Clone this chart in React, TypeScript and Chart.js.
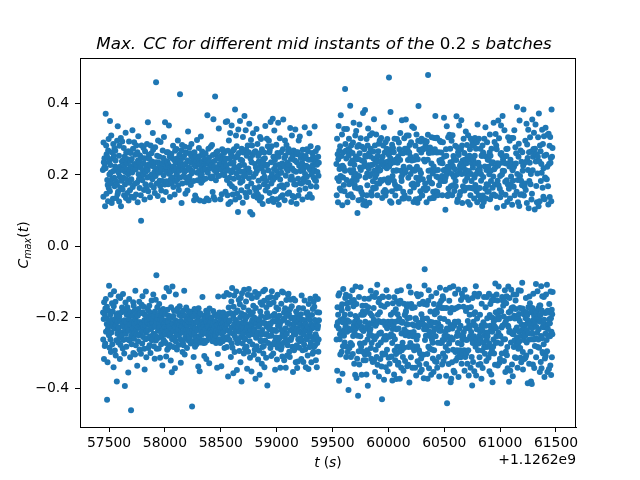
import { useEffect, useRef } from "react";
import { Chart, registerables } from "chart.js";

Chart.register(...registerables);

// Time offset shown beside the x axis (seconds)
const X_OFFSET_LABEL = "+1.1262e9";

// Two recording sections: first and last batch mid instant (s, relative to offset)
const SECTION1_SPAN = [57445, 59380];
const SECTION2_SPAN = [59535, 61470];

// Max. cross-correlation per batch, in thousandths, ordered by mid instant
const SECTION1_CC = [
  214, -187, -263, 139, 291, -205, 236, -318, -158, 221, 247, -192, -281, 233, 112, -274, -176, 219, 372, -149,
  -241, 283, -203, 147, 258, -219, -171, -432, 186, 249, -327, 172, -234, 126, 269, -224, -182, 301, 163, -251,
  -112, 238, 201, -286, -213, 154, 352, -194, 228, -263, -137, 207, -298, 177, 311, -243, -208, 121, 264, -161,
  189, -276, -226, 246, -184, 133, -219, 287, 211, -341, -169, 253, -127, 192, -232, 275, 168, -294, -206, 224,
  268, -157, 241, -308, -223, 183, 135, -265, -194, 219, -381, 173, 296, -212, -247, 146, 337, -236, 153, -189,
  -271, 207, -142, -229, 254, 125, -198, 282, -257, 196, -318, 223, -146, 164, -278, -211, 304, 112, -243, 184,
  217, -186, -252, 238, -173, 294, -219, 159, -288, 241, -135, 213, -264, 192, -227, 276, -181, 143, -302, 228,
  -209, 252, -394, 173, -236, 208, -159, 319, -247, 135, -214, 263, -283, 187, -193, 232, -262, 216, -172, 149,
  244, -227, -181, 202, -356, 267, 128, -238, -205, 294, -149, 178, -266, 211, -192, 157, -313, 239, -221, 262,
  -187, 223, -462, -253, 188, 139, -276, 245, -213, 207, -244, 326, -197, 166, -232, 274, -158, -301, 219, -168,
  136, -261, 292, -217, -182, 231, -244, 175, -305, 257, -126, -206, 215, -279, 145, -235, 283, -190, 228, -249,
  -214, 178, -337, 264, -228, 123, -196, 241, -268, 309, -177, 202, -251, 188, -214, -157, 236, -291, 163, -222,
  255, -189, -214, 221, -246, 143, -303, 71, -232, 197, 283, -165, -219, 248, -274, 185, -141, -238, 213, -187,
  -256, 201, -228, 276, -171, 232, 158, -289, -209, 131, -347, 247, -194, 266, -223, 174, -262, 208, -128, -243,
  223, -313, 162, -198, -238, 287, -213, 193, -176, -259, 214, 348, -236, 154, -287, 229, -183, -219, 257, -204,
  -168, 245, -279, 196, -222, 137, -254, 226, -301, 283, -188, 172, -233, -199, 261, -153, 201, -265, 238, -229,
  188, -215, -261, 318, -205, 271, -136, -247, 224, 164, -282, -196, 235, -227, 209, -317, 149, -184, 278, -252,
  -224, 197, -151, -266, 461, -213, -82, 236, -289, 176, -203, 254, -172, 218, -259, 141, -238, 297, -194, 213,
  234, -288, 206, -218, -163, 251, -229, 184, -256, 227, -314, 169, -207, 293, -181, -241, 211, -276, 156, -199,
  -253, 218, -188, 233, -207, -336, 183, 269, -235, 129, -177, 248, -264, 199, -221, 307, -143, -218, 241, -269,
  173, -228, 348, -191, -249, 214, -273, 152, 224, -311, -209, 182, -118, 264, -233, 208, -292, 237, -179, -212,
  -239, 264, -214, 174, -286, 229, -196, 339, -127, -252, 203, -226, 251, -278, 138, -203, 221, -247, 187, -322,
  209, -172, -234, 259, -201, 178, -355, 222, -262, 247, -114, -218, 193, -239, 282, -197, 166, -284, 224, -236,
  -181, 242, -257, 213, 145, -226, -344, 268, -209, 183, -268, 235, -136, -243, 219, -183, 273, -219, 201, -291,
  246, -216, 187, -248, -176, 297, -234, 171, -216, -278, 238, 158, -251, 212, -194, 257, -223, -169, 227, 427,
  -262, 193, -211, 234, -328, 226, -188, 269, -242, 121, -197, -226, 284, -214, 176, -298, 248, -271, 215, -182,
  227, -244, -279, 197, -215, 253, -126, -233, 208, -305, 279, -196, 231, -258, 147, -218, 192, -246, 263, -173,
  -207, 262, -235, 179, -287, 214, -223, 156, -263, 241, -204, 322, -183, -236, 221, -266, 186, -214, -244, 277,
  195, -258, 218, -191, 261, -239, -207, 236, -274, 172, -221, 254, -185, 287, -246, 205, -193, -451, 211, -227,
  -234, 209, -268, 247, -198, -226, 183, -312, 231, -216, 129, -251, 264, -177, -243, 226, -283, 142, -231, 236,
  253, -187, 224, -259, -213, 134, -276, 239, -181, 298, -237, 206, -265, 185, -214, -201, 246, -339, 232, -175,
  -229, 276, -196, 211, -254, 231, -352, 128, -226, 253, -189, -271, 197, -225, 308, -234, 178, -248, -217, 219,
  201, -248, 266, -211, -143, 237, -265, 185, -242, -221, 214, -273, 258, -196, -228, 126, -309, 231, -204, 245,
  -272, 217, -235, 189, 261, -203, -246, 232, -182, -318, 243, -213, 134, -266, 237, -191, 368, -224, -189, 206,
  233, -198, -227, 274, -254, 129, -212, 249, -330, 218, -176, 237, -241, -207, 193, -259, 221, -233, 279, -214,
  -245, 191, -261, 228, -202, -231, 284, -223, 196, -268, 152, -238, 256, -219, -183, 357, -255, 138, -232, 223,
  214, -263, 239, -192, -226, 131, 421, -246, -213, 259, -251, 185, -273, 207, -238, 264, -197, -223, 216, -342,
  -198, 246, -222, 267, -304, 197, -142, -244, 223, -264, 331, -216, -235, 198, -187, 231, -262, 246, -211, -273,
  132, -229, -207, 253, -243, 215, -338, 231, -219, 146, -247, -195, 272, -230, 244, -268, 203, -216, -187, 269,
  -256, 224, -241, -141, 262, -226, 199, -287, 237, -204, -258, 246, -199, 153, -232, 349, -221, -262, 212, -208,
  227, -132, -284, 186, 351, -219, 143, -256, -191, 268, -367, 214, 118, -238, -173, 297, -212, 246, -137, 192,
  -264, 175, -209, 318, -243, 124, -188, 232, -312, 259, 207, -156, -229, 339, -274, 168, -118, 251, -286, 213,
  145, -246, 268, -197, -358, 236, -171, 189, 272, -221, -139, 223, -298, 162, -254, 384, -207, 131, -233, 249,
  -187, 311, -262, -128, 204, -239, 281, -349, 147, -216, 254, -181, -273, 219, 96, -227, 328, -264, 193, -152,
  262, -218, 137, -295, -241, 226, -164, 352, -201, 178, -327, 243, -146, -256, 209, -189, 157, -381, 274, -231,
  -133, 241, -226, 183, -274, 122, 307, -214, -247, 263, -172, 196, -302, 228, -123, -259, 366, -194, 211, -288,
  199, -262, 149, -205, 326, -237, -156, 271, -219, 138, -283, 254, -198, -345, 217, 167, -229, 283, -137, -246,
  -297, 218, -181, 264, -121, 191, -251, 344, -226, 152, -268, 207, -314, 96, -193, 246, -236, -139, 298, -217,
  176, -353, 236, -224, -147, 283, -209, 89, -277, 256, -186, 317, -248, -168, 195, -233, 141, -306, 263, -201,
  -238, 163, -292, -213, 231, -129, 267, -373, 204, -174, 221, -258, 154, -219, 329, -282, -143, 212, -251, 136,
  287, -206, -243, 145, -319, 253, -227, 184, -135, 238, -294, 166, -208, 261, -362, 128, -221, 307, -184, -264,
  -159, 226, -268, 301, -197, 137, -249, 218, -331, 272, -165, -236, 189, -284, 118, -214, 244, -127, -302, 233,
  208, -281, 174, -154, 263, -341, 195, -217, 247, -123, -266, 338, -201, 156, -248, 226, -314, 183, -172, -226,
  -248, 302, -188, 229, -392, 167, -221, 281, -146, -273, 213, -199, 127, -253, 296, -161, -234, 264, -218, 149,
  271, -164, -231, 192, -287, 349, -143, -218, 236, -309, 176, -252, 281, -127, 203, -276, 133, -239, -196, 358,
  -211, 186, -302, 251, -159, 124, -276, 217, -236, 325, -191, 154, -269, 242, -348, 193, -212, -145, 227, -257,
  158, -239, 285, -173, -258, 211, -319, 132, -204, 262, -137, -286, 199, -225, 347, -178, 251, -263, 116, -214,
  -276, 229, -196, 168, -224, 303, -257, 187, -342, 221, -214, 138, -291, 264, -162, -236, 206, -283, 171, -128,
  232, -311, 143, -247, -209, 272, -131, 356, -238, 164, -272, 226, -187, -321, 248, -203, 129, -256, 297, -175,
  -183, 254, -231, -342, 198, -266, 219, -152, 284, -196, -247, 173, -308, 235, -216, 147, -279, 212, -138, 266,
  219, -134, 273, -264, -191, 151, -297, 228, -219, -312, 263, -178, 332, -236, 187, -151, -264, 245, -203, 124,
  -258, 196, -169, 311, -237, 218, -283, 141, -202, 254, -354, 186, -226, -148, 269, -247, 212, -293, 174, -217,
  137, -288, 241, -206, -153, 328, -249, 173, -327, 209, -184, 264, -241, 119, -279, 236, -196, -343, 258, -232,
  -216, 264, -325, 189, -263, 142, -211, 297, -174, -238, 226, -286, 158, -203, 308, -268, 177, -221, -259, 211,
  248, -192, -244, 221, -318, 176, -139, 256, -264, 233, -207, 131, -293, 271, -226, -175, 214, -326, 189, -248,
  -231, 181, -277, 246, -209, -153, 334, -238, 203, -291, 162, -219, 253, -341, 226, -188, -262, 194, -236, 272,
  196, -259, 224, -186, 138, -308, -227, 267, -199, 179, -346, 243, -163, -251, 219, -284, 317, -207, 146, -242,
  -283, 214, -148, -233, 281, -271, 168, -219, 243, -327, 201, -256, 136, -194, 262, -231, -303, 227, -177, 209,
  252, -226, -298, 193, -157, 242, -284, 214, -171, -262, 336, -208, 186, -279, 233, -142, -248, 267, -321, 183,
  -219, 167, -256, 237, -341, 229, -186, -273, 208, -232, 276, -149, -224, 251, -297, 198, -263, 234, -209, -187,
];

const SECTION2_CC = [
  231, -263, 143, -224, 302, -351, 191, -172, 258, -214, 123, -193, 244, -139, 338, -232, 183, -379, 268, -133,
  217, -262, 162, -248, 281, -305, -208, 197, 368, 224, -173, 156, -241, 253, -297, -181, 314, -164, 115, -359,
  226, -214, -282, 193, -121, 264, -204, 221, 172, -252, 329, -236, 154, -271, -193, 212, 442, -146, 287, -226,
  -218, 268, -137, -312, 246, -283, 186, -162, 329, -241, -209, 123, 267, -298, -176, 142, -231, 273, -405, 254,
  -159, 302, -213, 174, -287, 268, -141, 213, -236, 395, -192, 232, -273, 146, -312, 283, -234, 207, -156, 236,
  183, -278, 241, -124, 262, 137, -304, 291, -253, 214, -169, 347, -223, -152, 194, -331, 229, -243, 172, -213,
  164, -362, 311, -197, -114, 252, 203, -232, 324, -163, -371, 186, 244, -204, -317, 279, 93, -252, -224, 162,
  -421, -221, 245, 129, -296, 284, -143, 197, -333, 342, 261, -214, -274, 221, 163, -254, -116, 303, 214, -193,
  -283, 153, 131, -362, 241, -234, 279, -228, -168, 145, -297, -184, 374, -193, 116, -239, -321, 224, -192, 237,
  272, -148, -272, 126, -305, 383, 254, -213, 193, -321, -168, 251, 114, -232, -361, 301, 143, -184, -293, 204,
  171, -263, 283, -393, -224, 331, -172, 227, -304, 218, -148, 261, -251, 122, -217, 197, -242, 312, -189, 252,
  -233, 274, -126, -287, 203, -317, 152, 228, -273, 142, -196, 317, -141, -253, 229, -326, 182, 164, -219, 266,
  246, -174, -207, 357, -321, 212, 162, -262, -143, 283, -354, 193, 234, -224, -292, 163, -132, 314, -254, 202,
  -312, 244, -217, 176, -109, 143, -334, 253, -193, 222, -279, 267, -211, -158, 288, -367, 212, -246, 176, -148,
  297, -186, -246, 213, -318, 236, 186, -271, -243, 304, -167, 183, -339, 241, -214, -431, 135, -302, -142, 252,
  228, -306, -143, 283, 152, -212, -263, 334, -376, 187, 224, -171, -254, 263, 158, -304, -223, 142, 292, -341,
  -263, 236, 153, -253, -124, 274, 219, -292, -231, 301, -163, 183, -352, 237, -213, 179, 191, -314, -143, 257,
  474, 224, -255, 187, -331, 263, -254, 126, -312, 247, 377, -221, -193, 232, -248, 273, 122, -311, -212, 154,
  285, -273, -378, 197, -233, -161, 276, -253, -187, 212, -224, 264, 183, -361, -144, 236, 302, -294, -262, 173,
  -321, 142, 243, -213, -178, 212, -304, 162, -374, -234, 213, -155, 301, -283, -127, 234, -192, 247, -334, 166,
  252, -328, -232, 124, 291, -162, -204, 272, -297, 163, -373, -212, 242, 318, -154, -283, 212, -124, 262, -342,
  194, -246, 183, -293, 354, -216, -213, 134, -272, 202, -312, 261, 153, -244, -351, 223, 134, -162, -286, 303,
  -235, 143, -194, 274, -323, 207, -251, 213, -187, 356, -183, -249, 274, -219, -242, 311, -171, 263, -338, -203,
  272, -221, -164, 242, -334, 192, -284, 311, 134, -253, -114, 263, -384, 222, 284, -202, -244, 153, -273, 251,
  203, -131, -313, 292, -163, -244, 173, -284, 241, -174, 336, -342, -221, 215, -254, 176, -173, 243, -282, 124,
  -242, 165, 332, -293, -224, 212, -172, 243, 173, -342, -253, 282, -203, 132, -206, 253, -364, 192, 314, -263,
  -135, 223, -282, 174, 122, -324, -252, 244, -141, 296, -216, 394, -228, 185, -293, 134, 271, -334, -163, 213,
  192, -302, -354, 154, -218, 294, -136, 205, -316, 263, -192, 302, -348, 143, -220, 142, 273, -217, -205, 188,
  -157, -204, 272, -306, 162, -372, 243, -234, -163, 297, -111, -65, 238, -264, 176, -223, 283, -234, 157, -252,
  292, -332, -231, 123, 294, -165, -204, 274, -304, 162, -373, 243, 313, 481, -154, -283, 212, -124, 262, -344,
  193, -241, 182, -288, -213, 134, 277, -254, -184, 213, -224, 263, 178, -362, -142, 232, 306, -291, -263, 176,
  -214, 135, -272, 204, -316, 263, 153, -242, -354, 224, 135, -163, -293, 304, -232, 143, -192, 272, -324, 213,
  366, -183, -254, 154, -216, 303, -132, 196, -326, 263, -187, 305, -342, 152, -233, 143, -272, 214, -218, 193,
  -173, -224, 264, -312, 171, -367, 241, -238, -162, 296, -117, -203, 234, -273, 183, -227, 293, -238, -154, 263,
  243, -174, -272, 197, -333, 143, 233, -264, -141, 292, -302, 183, -148, -324, 213, -174, 361, -205, 252, -253,
  -263, 214, 183, -312, -242, 102, 193, -284, -123, 272, -365, 254, -174, 202, 337, -232, -442, 143, -254, 223,
  141, -294, -213, 306, -235, 162, -332, 211, 147, -274, -154, 313, -231, 222, -117, -263, 274, -187, 236, -383,
  -222, 168, -257, -373, 234, 296, -174, 203, -327, 143, -232, 312, -263, 225, 171, -292, -113, 253, -351, 194,
  243, -178, -224, 155, -356, 197, -213, 216, -134, 282, -298, 183, 168, -322, -214, 242, -174, 365, 201, -253,
  -293, 124, 278, -314, -243, 132, -273, 264, -212, -122, -368, 256, -171, 205, 339, -232, -301, 143, -251, 226,
  215, -293, 152, -224, -313, 272, -152, 233, 354, -276, -331, 203, -134, 283, 121, -262, -302, 241, -143, 168,
  -254, 224, -171, 302, -242, 163, -293, 262, 156, -351, -123, 243, -263, 183, -312, 214, -232, 322, -183, 204,
  163, -302, 233, -264, -144, 284, 192, -331, -174, 252, -211, 124, 312, -293, -152, 243, -364, 211, 164, -223,
  -232, 254, -193, 116, 272, -254, -224, 143, -342, 302, -172, 203, -242, 163, 183, -312, -263, 232, -392, 283,
  294, -146, -273, 221, -326, 162, 243, -213, -191, 284, -254, 134, -352, 193, -134, 254, 304, -186, -224, 172,
  -283, 232, -113, 274, -364, 203, 154, -262, -234, 292, -204, 123, -272, 342, -142, 213, -293, 162, 234, -334,
  143, -274, 302, -134, -254, 224, -313, 163, 214, -193, -242, 274, -332, 132, -264, 203, 184, -224, -373, 254,
  -162, 254, -234, 113, -294, 283, -343, 142, -224, 263, 194, -214, -272, 124, 254, -143, -284, 302, -252, 134,
  224, -303, 162, -243, 334, -172, -224, 134, -284, 252, -323, 214, 174, -264, -143, 292, -203, 153, -254, 243,
  -243, 172, -283, 223, -314, 154, 243, -134, -274, 202, -352, 263, -194, 314, 132, -224, -163, 254, -302, 212,
  183, -234, -361, 274, -154, 233, -293, 142, -241, -202, -383, 164, 236, -142, -283, 196, -263, 347, -213, 145,
  -302, 216, -152, 293, -226, 173, -334, 221, -105, -273, 315, -186, 141, -231, 283, -254, -136, 272, -206, 108,
  233, -271, -153, 184, -336, 226, -196, 353, -244, 171, -114, -206, 303, -181, 232, -328, -252, 161, -317, 197,
  137, -253, 259, -183, -274, 339, -184, 262, 151, -229, -302, 201, -143, 253, -224, 366, 212, -154, 243, -168,
  -263, 234, -198, 113, -323, 211, -155, 326, -219, 252, -124, -262, 181, -354, 144, -213, -297, 232, -161, 273,
  253, -141, 185, -307, -205, 124, -284, 274, -344, 173, -224, 306, -114, -228, 232, -186, 161, -382, -242, 224,
  -146, 296, -238, 134, -203, -351, 243, -183, 174, -271, 196, -123, 304, -244, -174, 231, -333, 116, -247, 217,
  213, -366, 184, -172, 304, -248, -136, 167, -284, 223, -196, 326, -266, 143, -204, -313, 231, -237, 278, -153,
  -177, 232, -315, 261, -136, -275, 153, -229, 391, -257, 203, -198, -342, 186, -276, 123, -204, -289, 251, -124,
  288, -191, -241, 113, -268, 353, -211, -174, 197, -287, 144, -314, 269, -126, -253, 184, -327, 237, -221, 146,
  -236, 171, -103, 264, -176, 212, -298, -347, 226, -183, 384, -229, -192, 142, -264, 233, -318, 167, -247, -222,
  176, -253, 296, -314, -203, 158, -146, 237, -308, -186, 344, -271, 121, -236, 286, -194, -217, 248, -386, 214,
  -209, 327, -172, -245, 106, -219, 264, -331, 183, -142, -263, 234, -161, 306, -218, -297, 174, -226, 203, -381,
  266, -186, 131, -262, -388, 147, -231, 356, -174, -247, 213, -333, 251, -181, -134, 273, -207, -263, 319, -196,
  -343, 261, -219, 103, -281, 274, -213, -184, 342, -259, 238, -107, -313, 169, -228, 258, -187, 123, -244, -204,
  204, -127, -284, 251, -199, 306, -175, -263, 112, -234, 373, -286, -206, 238, -167, 126, -354, 283, -213, -167,
  -194, 267, -326, 183, -253, -113, 231, -344, 206, -181, -259, 327, -141, -298, 164, -228, 287, -302, -216, 139,
  219, -276, -143, 309, -207, 254, -368, 132, -229, -316, 193, -188, -247, 333, -309, 189, -136, -187, 257, -227,
  -264, 188, -109, -296, 223, -354, 313, -182, -233, 168, -251, 117, -219, 316, -187, -346, 231, -163, -206, 282,
  138, -217, -254, 307, -336, 234, -128, 248, -203, -363, 126, -241, 384, -179, -313, 251, -192, -248, 276, -129,
];

const X_TICKS = [57500, 58000, 58500, 59000, 59500, 60000, 60500, 61000, 61500];
const Y_TICKS = [-0.4, -0.2, 0.0, 0.2, 0.4];
const X_RANGE = [57240, 61679];
const Y_RANGE = [-0.509, 0.529];

const MARKER_COLOR = "#1f77b4";
const FONT = "DejaVu Sans";

type Run = { text: string; italic?: boolean; size: number; dy?: number; gap?: number };

// Lay out a sequence of text runs (mixed italic / upright, sub-scripts) along a line
function drawRuns(ctx: CanvasRenderingContext2D, runs: Run[], x: number, y: number, align: "center" | "right") {
  const widths = runs.map((r) => {
    ctx.font = `${r.italic ? "italic " : ""}${r.size}px "${FONT}"`;
    return ctx.measureText(r.text).width + (r.gap || 0);
  });
  const total = widths.reduce((a, b) => a + b, 0);
  let cx = align === "center" ? x - total / 2 : x - total;
  ctx.textAlign = "left";
  ctx.textBaseline = "alphabetic";
  runs.forEach((r, i) => {
    ctx.font = `${r.italic ? "italic " : ""}${r.size}px "${FONT}"`;
    ctx.fillText(r.text, cx, y + (r.dy || 0));
    cx += widths[i];
  });
}

function sectionPoints(span: number[], values: number[]) {
  const step = (span[1] - span[0]) / (values.length - 1);
  return values.map((v, i) => ({ x: span[0] + i * step, y: v / 1000 }));
}

const annotations = {
  id: "figureText",
  afterDraw(chart: Chart) {
    const ctx = chart.ctx;
    const { left, right, top, bottom } = chart.chartArea;
    ctx.save();
    // axes frame
    ctx.strokeStyle = "#000";
    ctx.lineWidth = 1;
    ctx.strokeRect(left + 0.5, top + 0.5, right - left - 1, bottom - top);
    ctx.fillStyle = "#000";

    // title
    drawRuns(
      ctx,
      [
        { text: "Max.", italic: true, size: 16.7, gap: 7 },
        { text: "CC for different mid instants of the ", italic: true, size: 16.7 },
        { text: "0.2", size: 16.7 },
        { text: " s batches", italic: true, size: 16.7 },
      ],
      324,
      49,
      "center"
    );

    // x label
    drawRuns(
      ctx,
      [
        { text: "t", italic: true, size: 13.9, gap: 4 },
        { text: "(", size: 13.9 },
        { text: "s", italic: true, size: 13.9 },
        { text: ")", size: 13.9 },
      ],
      328,
      467,
      "center"
    );

    // offset text
    drawRuns(ctx, [{ text: X_OFFSET_LABEL, size: 13.9 }], 576, 464, "right");

    // y label, rotated
    ctx.translate(27.5, 245);
    ctx.rotate(-Math.PI / 2);
    drawRuns(
      ctx,
      [
        { text: "C", italic: true, size: 13.9 },
        { text: "max", italic: true, size: 9.7, dy: 3 },
        { text: "(", size: 13.9 },
        { text: "t", italic: true, size: 13.9 },
        { text: ")", size: 13.9 },
      ],
      0,
      0,
      "center"
    );
    ctx.restore();
  },
};

export default function App() {
  const canvasRef = useRef<HTMLCanvasElement | null>(null);

  useEffect(() => {
    const canvas = canvasRef.current;
    if (!canvas) return;
    const points = [...sectionPoints(SECTION1_SPAN, SECTION1_CC), ...sectionPoints(SECTION2_SPAN, SECTION2_CC)];
    const tickFont = { family: FONT, size: 13.9 };
    const chart = new Chart(canvas, {
      type: "scatter",
      data: {
        datasets: [
          {
            data: points,
            backgroundColor: MARKER_COLOR,
            borderColor: MARKER_COLOR,
            borderWidth: 0,
            pointRadius: 3,
          },
        ],
      },
      options: {
        animation: false,
        responsive: false,
        devicePixelRatio: 1,
        events: [],
        layout: { padding: { top: 58, right: 64, left: 0, bottom: 0 } },
        plugins: { legend: { display: false }, tooltip: { enabled: false }, title: { display: false } },
        scales: {
          x: {
            type: "linear",
            min: X_RANGE[0],
            max: X_RANGE[1],
            afterBuildTicks: (axis: any) => {
              axis.ticks = X_TICKS.map((v) => ({ value: v }));
            },
            afterFit: (axis: any) => {
              axis.height = 53;
            },
            grid: { drawOnChartArea: false, drawTicks: true, tickLength: 5, color: "#000", tickWidth: 1 },
            border: { display: true, color: "#000", width: 1 },
            ticks: {
              color: "#000",
              font: tickFont,
              padding: 3,
              maxRotation: 0,
              autoSkip: false,
              callback: (v: any) => String(v),
            },
          },
          y: {
            type: "linear",
            min: Y_RANGE[0],
            max: Y_RANGE[1],
            afterBuildTicks: (axis: any) => {
              axis.ticks = Y_TICKS.map((v) => ({ value: v }));
            },
            afterFit: (axis: any) => {
              axis.width = 80;
            },
            grid: { drawOnChartArea: false, drawTicks: true, tickLength: 5, color: "#000", tickWidth: 1 },
            border: { display: true, color: "#000", width: 1 },
            ticks: {
              color: "#000",
              font: tickFont,
              padding: 6,
              autoSkip: false,
              callback: (v: any) => Number(v).toFixed(1).replace("-", "\u2212"),
            },
          },
        },
      },
      plugins: [annotations],
    });
    return () => chart.destroy();
  }, []);

  return (
    <div style={{ position: "absolute", left: 0, top: 0, width: 640, height: 480, background: "#fff" }}>
      <canvas ref={canvasRef} width={640} height={480} style={{ width: 640, height: 480, display: "block" }} />
    </div>
  );
}
